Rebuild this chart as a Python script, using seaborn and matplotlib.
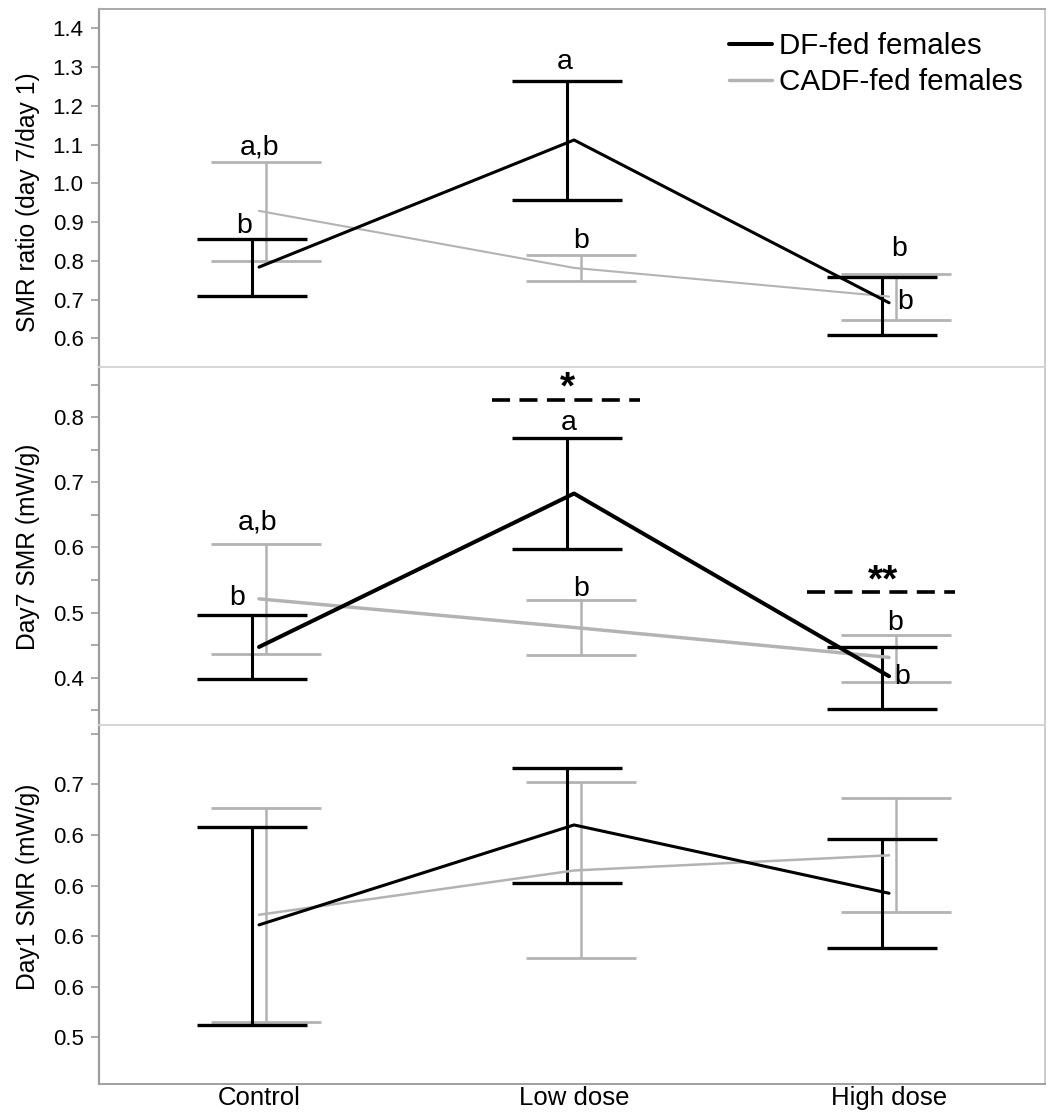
import numpy as np
import pandas as pd
import matplotlib
matplotlib.use("Agg")
import matplotlib.pyplot as plt
from matplotlib.lines import Line2D
import seaborn as sns

sns.set_theme(style="ticks")
plt.rcParams["font.family"] = ["Liberation Sans", "DejaVu Sans"]
plt.rcParams["text.color"] = "black"
plt.rcParams["axes.labelcolor"] = "black"

doses = ["Control", "Low dose", "High dose"]
groups = ["DF-fed females", "CADF-fed females"]

# SMR ratio (day 7 / day 1)
ratio_df_mean = [0.784, 1.112, 0.692]
ratio_df_lo = [0.709, 0.957, 0.609]
ratio_df_hi = [0.856, 1.263, 0.759]
ratio_cadf_mean = [0.929, 0.782, 0.708]
ratio_cadf_lo = [0.800, 0.748, 0.647]
ratio_cadf_hi = [1.054, 0.815, 0.765]

# Day 7 SMR (mW/g)
d7_df_mean = [0.447, 0.683, 0.402]
d7_df_lo = [0.397, 0.597, 0.352]
d7_df_hi = [0.496, 0.769, 0.447]
d7_cadf_mean = [0.521, 0.477, 0.431]
d7_cadf_lo = [0.436, 0.435, 0.393]
d7_cadf_hi = [0.606, 0.519, 0.466]

# Day 1 SMR (mW/g) - axis labels in the original are rounded to one decimal
d1_df_mean = [0.589, 0.668, 0.614]
d1_df_lo = [0.510, 0.622, 0.571]
d1_df_hi = [0.666, 0.713, 0.657]
d1_cadf_mean = [0.597, 0.632, 0.644]
d1_cadf_lo = [0.512, 0.563, 0.599]
d1_cadf_hi = [0.681, 0.702, 0.689]
d1_ticks = [0.50, 0.54, 0.58, 0.62, 0.66, 0.70, 0.74]
d1_ticklabels = ["0.5", "0.6", "0.6", "0.6", "0.6", "0.7", ""]

# letters: (dose, group, anchor, text)
ratio_letters = [("Control", "CADF-fed females", "hi", "a,b"),
                 ("Control", "DF-fed females", "hi", "b"),
                 ("Low dose", "DF-fed females", "hi", "a"),
                 ("Low dose", "CADF-fed females", "hi", "b"),
                 ("High dose", "CADF-fed females", "hi", "b"),
                 ("High dose", "DF-fed females", "mean", "b")]
d7_letters = [("Control", "CADF-fed females", "hi", "a,b"),
              ("Control", "DF-fed females", "hi", "b"),
              ("Low dose", "DF-fed females", "hi", "a"),
              ("Low dose", "CADF-fed females", "hi", "b"),
              ("High dose", "CADF-fed females", "hi", "b"),
              ("High dose", "DF-fed females", "mean", "b")]
# label offsets in pixels (dx, dy) from the anchor
ratio_offs = [(-6, 8), (-8, 6), (-3, 12), (0, 7), (3, 18), (16, -6)]
d7_offs = [(-8, 14), (-15, 10), (1, 8), (0, 4), (-1, 5), (13, -8)]

# significance between diets: (dose, label, y of dashed line)
d7_sig = [("Low dose", "*", 0.827), ("High dose", "**", 0.531)]

PAL = {"DF-fed females": "black", "CADF-fed females": "#b3b3b3"}
SHIFT = {"DF-fed females": -0.021, "CADF-fed females": 0.021}
PX = 0.72  # points per pixel at dpi 100


def make_df(dm, dl, dh, cm, cl, ch):
    rows = []
    for g, m, l, h in [(groups[0], dm, dl, dh), (groups[1], cm, cl, ch)]:
        for i, d in enumerate(doses):
            rows.append({"dose": d, "pos": i, "group": g, "mean": m[i], "lo": l[i], "hi": h[i]})
    return pd.DataFrame(rows)


def draw_panel(ax, df, lw_black, lw_gray):
    for g, z in [(groups[1], 2), (groups[0], 3)]:
        s = df[df.group == g]
        lw = 2.2 if g == groups[0] else 1.8
        ax.errorbar(s.pos + SHIFT[g], s["mean"], yerr=[s["mean"] - s.lo, s.hi - s["mean"]],
                    fmt="none", ecolor=PAL[g], elinewidth=lw, capsize=39.6, capthick=lw + 0.2,
                    zorder=z)
    sns.lineplot(data=df, x="pos", y="mean", hue="group", palette=PAL, size="group",
                 sizes={groups[0]: lw_black, groups[1]: lw_gray}, hue_order=groups[::-1],
                 ax=ax, legend=False, sort=False, estimator=None, zorder=4)


def add_letters(ax, df, letters, offs, size=20.5):
    for (d, g, anchor, txt), (dx, dy) in zip(letters, offs):
        r = df[(df.dose == d) & (df.group == g)].iloc[0]
        x = r.pos + (SHIFT[g] if anchor == "hi" else 0)
        ax.annotate(txt, xy=(x, r[anchor]), xytext=(dx * PX, dy * PX), textcoords="offset points",
                    ha="center", va="baseline", fontsize=size, color="black", zorder=6)


def style_axes(ax, top_color, bottom_color):
    ax.set_xlim(-0.508, 2.496)
    ax.spines["left"].set_color("#9c9c9c")
    ax.spines["left"].set_linewidth(1.6)
    ax.spines["right"].set_color("#c4c4c4")
    ax.spines["right"].set_linewidth(1.2)
    ax.spines["top"].set_color(top_color)
    ax.spines["top"].set_linewidth(1.4)
    ax.spines["bottom"].set_color(bottom_color)
    ax.spines["bottom"].set_linewidth(1.4)
    ax.tick_params(axis="y", which="both", direction="out", length=6, width=1.2,
                   color="#9c9c9c", labelcolor="black", labelsize=16, pad=5, left=True)
    ax.tick_params(axis="x", length=0, labelcolor="black")
    ax.set_xlabel("")


fig = plt.figure(figsize=(10.52, 11.14), dpi=100)
L, W = 99 / 1052, 946.3 / 1052
ax1 = fig.add_axes([L, 1 - 366.7 / 1114, W, 357.7 / 1114])
ax2 = fig.add_axes([L, 1 - 725 / 1114, W, 358.3 / 1114])
ax3 = fig.add_axes([L, 1 - 1084.3 / 1114, W, 359.3 / 1114])

df1 = make_df(ratio_df_mean, ratio_df_lo, ratio_df_hi, ratio_cadf_mean, ratio_cadf_lo, ratio_cadf_hi)
df2 = make_df(d7_df_mean, d7_df_lo, d7_df_hi, d7_cadf_mean, d7_cadf_lo, d7_cadf_hi)
df3 = make_df(d1_df_mean, d1_df_lo, d1_df_hi, d1_cadf_mean, d1_cadf_lo, d1_cadf_hi)

# top: ratio
draw_panel(ax1, df1, 2.2, 1.5)
add_letters(ax1, df1, ratio_letters, ratio_offs)
style_axes(ax1, "#a8a8a8", "#d6d6d6")
ax1.set_ylim(0.527, 1.45)
ax1.set_yticks(np.arange(0.6, 1.41, 0.1))
ax1.set_yticklabels([f"{v:.1f}" for v in np.arange(0.6, 1.41, 0.1)])
ax1.set_xticks([])
ax1.set_ylabel("SMR ratio (day 7/day 1)", fontsize=17.7)
ax1.yaxis.set_label_coords(-0.062, 0.459)

handles = [Line2D([], [], color="black", lw=2.9), Line2D([], [], color="#b3b3b3", lw=2.5)]
ax1.legend(handles, groups, loc="upper left", bbox_to_anchor=(0.6654, 0.935), frameon=False,
           fontsize=21.3, handlelength=1.48, handletextpad=0.22, labelspacing=0.27,
           borderpad=0, borderaxespad=0)

# middle: day 7
draw_panel(ax2, df2, 2.9, 2.5)
add_letters(ax2, df2, d7_letters, d7_offs)
for d, lab, yv in d7_sig:
    i = doses.index(d)
    ax2.plot([i - 0.26, i + 0.21], [yv, yv], color="black", lw=2.6, ls=(0, (5, 2.6)),
             solid_capstyle="butt", zorder=6)
    ax2.annotate(lab, xy=(i - 0.02, yv), xytext=(0, -5), textcoords="offset points", ha="center",
                 va="bottom", fontsize=28, fontweight="bold", zorder=6)
style_axes(ax2, "#d6d6d6", "#d6d6d6")
ax2.set_ylim(0.327, 0.878)
ax2.set_yticks([0.4, 0.5, 0.6, 0.7, 0.8])
ax2.set_yticklabels(["0.4", "0.5", "0.6", "0.7", "0.8"])
ax2.set_yticks([0.35, 0.45, 0.55, 0.65, 0.75, 0.85], minor=True)
ax2.set_xticks([])
ax2.set_ylabel("Day7 SMR (mW/g)", fontsize=17.7)
ax2.yaxis.set_label_coords(-0.062, 0.4976)

# bottom: day 1
draw_panel(ax3, df3, 2.2, 1.8)
style_axes(ax3, "#d6d6d6", "#a0a0a0")
ax3.set_ylim(0.463, 0.747)
ax3.set_yticks(d1_ticks)
ax3.set_yticklabels(d1_ticklabels)
ax3.set_xticks(range(len(doses)))
ax3.set_xticklabels(doses, fontsize=18.5)
ax3.tick_params(axis="x", length=0, pad=1)
ax3.set_ylabel("Day1 SMR (mW/g)", fontsize=17.7)
ax3.yaxis.set_label_coords(-0.062, 0.551)

fig.savefig("out.png", dpi=100)
